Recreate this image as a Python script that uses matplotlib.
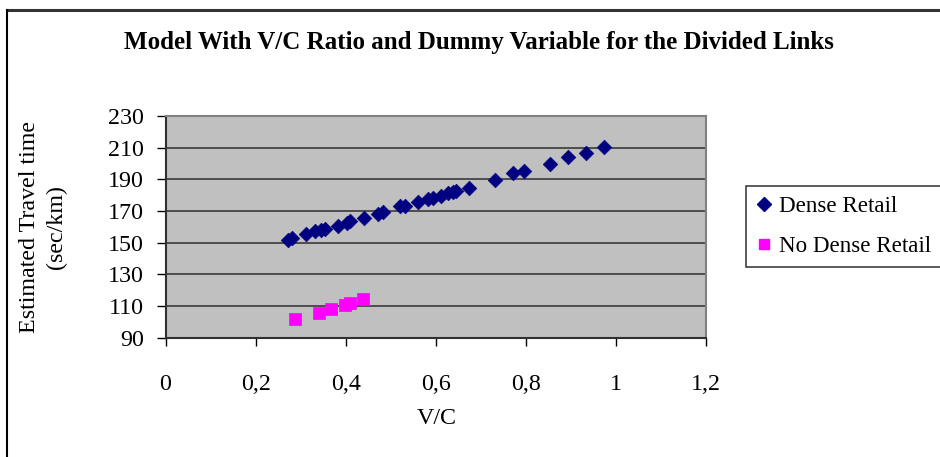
import matplotlib
matplotlib.use("Agg")
import matplotlib.pyplot as plt
from matplotlib.ticker import FuncFormatter, MultipleLocator, FixedLocator
from matplotlib.lines import Line2D

# ---- data ----
dense_vc = [0.272, 0.280, 0.311, 0.332, 0.346, 0.354, 0.382, 0.402, 0.410, 0.441,
            0.471, 0.483, 0.521, 0.531, 0.561, 0.583, 0.594, 0.612, 0.627, 0.639,
            0.644, 0.673, 0.731, 0.771, 0.795, 0.853, 0.893, 0.933, 0.973]
dense_tt = [151.6, 153.2, 155.3, 157.4, 158.3, 158.5, 160.4, 162.5, 163.8, 165.7,
            167.9, 169.5, 173.2, 173.2, 175.9, 177.4, 178.5, 179.5, 181.3, 181.9,
            182.7, 184.8, 189.8, 193.8, 195.1, 200.0, 204.0, 206.8, 210.4]
nodense_vc = [0.288, 0.341, 0.368, 0.399, 0.409, 0.439]
nodense_tt = [102.0, 105.8, 108.3, 110.8, 112.1, 114.6]

y_ticks = [90, 110, 130, 150, 170, 190, 210, 230]

title = "Model With V/C Ratio and Dummy Variable for the Divided Links"
xlabel = "V/C"
ylabel = "Estimated Travel time\n(sec/km)"
series_names = ["Dense Retail", "No Dense Retail"]

W, H = 940, 457
plt.rcParams['font.family'] = ['Liberation Serif', 'DejaVu Serif']
fs = 17.3

fig = plt.figure(figsize=(W / 100, H / 100), dpi=100)
fig.patch.set_facecolor('white')

# figure border (top and left lines)
fig.add_artist(Line2D([7 / W, 1], [1 - 9.5 / H, 1 - 9.5 / H], color='#333333', lw=2.2,
                      transform=fig.transFigure))
fig.add_artist(Line2D([7 / W, 7 / W], [0, 1 - 9.5 / H], color='black', lw=1.5,
                      transform=fig.transFigure))

L, R, T, B = 165.5, 706, 116, 337.7
ax = fig.add_axes([L / W, 1 - B / H, (R - L) / W, (B - T) / H])
ax.set_facecolor('#C0C0C0')

ax.scatter(dense_vc, dense_tt, marker='D', s=55, color='#000080', edgecolors='#000080',
           linewidths=0.5, zorder=3, label=series_names[0])
ax.scatter(nodense_vc, nodense_tt, marker='s', s=66, color='#FF00FF', edgecolors='#FF00FF',
           linewidths=0.5, zorder=3, label=series_names[1])

ax.set_xlim(0, 1.2)
ax.set_ylim(90, 230)
ax.xaxis.set_major_locator(MultipleLocator(0.2))
ax.yaxis.set_major_locator(FixedLocator(y_ticks))


def comma(v, pos):
    s = f"{v:.1f}".rstrip('0').rstrip('.')
    return s.replace('.', ',')


ax.xaxis.set_major_formatter(FuncFormatter(comma))
ax.yaxis.set_major_formatter(FuncFormatter(lambda v, p: f"{v:.0f}"))

ax.grid(axis='y', color='#3a3a3a', lw=1.2)
ax.set_axisbelow(True)
for s in ['top', 'right']:
    ax.spines[s].set_color('#808080')
    ax.spines[s].set_linewidth(1.5)
for s in ['left', 'bottom']:
    ax.spines[s].set_color('#303030')
    ax.spines[s].set_linewidth(1.5)

ax.tick_params(axis='x', direction='out', length=6, width=1, color='black',
               labelsize=fs, pad=20)
ax.tick_params(axis='y', direction='out', length=6.5, width=1, color='black',
               labelsize=fs, pad=9)

fig.text(479 / W, 1 - 43 / H, title, ha='center', va='center', fontsize=18.0,
         fontweight='bold')
fig.text(437 / W, 1 - 419 / H, xlabel, ha='center', va='center', fontsize=fs)
fig.text(43 / W, 1 - 227 / H, ylabel, ha='center', va='center', fontsize=fs,
         rotation=90, multialignment='center', linespacing=1.38)

leg = fig.legend(handles=[
    Line2D([], [], marker='D', ls='', ms=7, color='#000080'),
    Line2D([], [], marker='s', ls='', ms=7.5, color='#FF00FF')],
    labels=series_names, loc='upper left',
    bbox_to_anchor=(745.7 / W, 1 - 185.7 / H), fontsize=16.6, frameon=True,
    fancybox=False, edgecolor='#404040', framealpha=1, borderpad=0.45,
    labelspacing=0.8, handlelength=0.7, handletextpad=0.3, borderaxespad=0)
leg.get_frame().set_linewidth(1.2)

fig.savefig('out.png', dpi=100)
